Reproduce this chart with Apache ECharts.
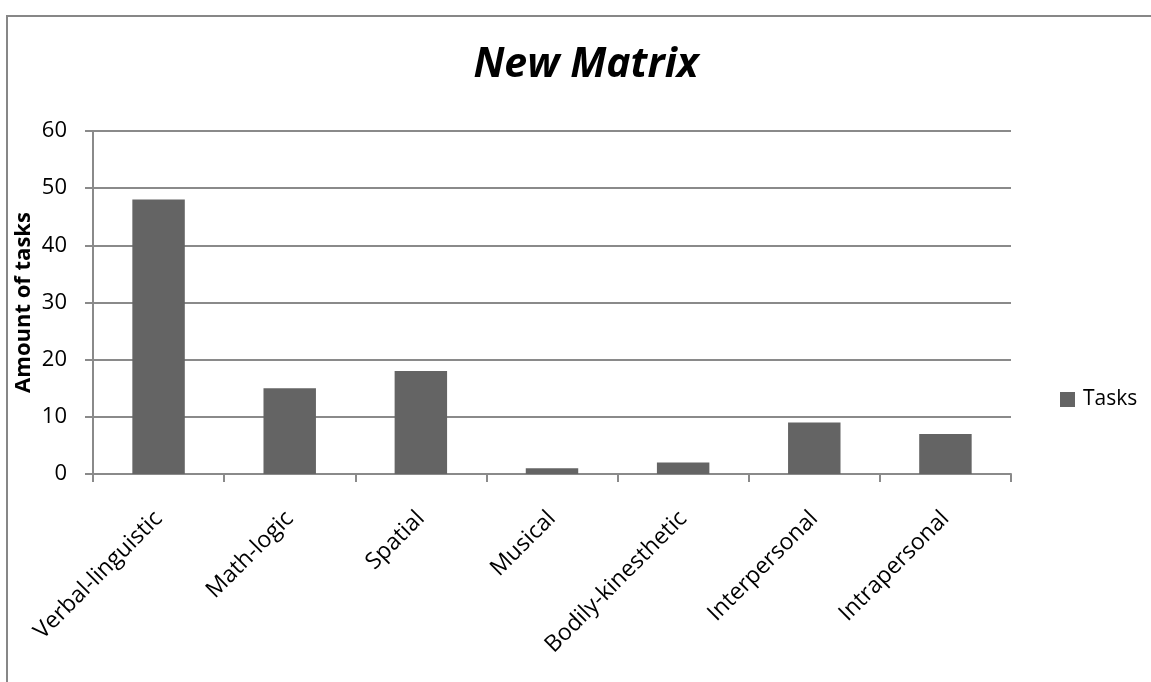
<!DOCTYPE html>
<html>
<head>
<meta charset="utf-8">
<title>New Matrix</title>
<script src="https://cdn.jsdelivr.net/npm/echarts@6/dist/echarts.min.js"></script>
<style>
  html, body { margin: 0; padding: 0; background: #fff; }
  #chart { width: 1151px; height: 682px; }
</style>
</head>
<body>
<div id="chart"></div>
<script>
// data
const categories = ['Verbal-linguistic', 'Math-logic', 'Spatial', 'Musical', 'Bodily-kinesthetic', 'Interpersonal', 'Intrapersonal'];
const tasks = [48, 15, 18, 1, 2, 9, 7];
const yTicks = [0, 10, 20, 30, 40, 50, 60];

const FONT = '"Open Sans", "Liberation Sans", sans-serif';
const GRID_GRAY = '#8a8a8a';

const chart = echarts.init(document.getElementById('chart'), null, { renderer: 'canvas' });

chart.setOption({
  backgroundColor: '#ffffff',
  animation: false,
  title: {
    text: 'New Matrix',
    left: 581,
    textAlign: 'center',
    top: 40,
    textStyle: {
      fontFamily: FONT,
      fontSize: 41,
      fontWeight: 'bold',
      fontStyle: 'italic',
      color: '#000'
    }
  },
  legend: {
    data: ['Tasks'],
    left: 1055,
    top: 384,
    itemWidth: 15,
    itemHeight: 15,
    icon: 'rect',
    textStyle: {
      fontFamily: FONT,
      fontSize: 21,
      color: '#000',
      padding: [0, 0, 0, 3]
    }
  },
  grid: {
    left: 93,
    right: 140,
    top: 131,
    bottom: 208,
    containLabel: false
  },
  xAxis: {
    type: 'category',
    data: categories,
    axisLine: { lineStyle: { color: GRID_GRAY, width: 2 } },
    axisTick: { show: true, length: 8, interval: 0, lineStyle: { color: GRID_GRAY, width: 2 } },
    axisLabel: {
      interval: 0,
      rotate: 45,
      margin: 41,
      fontFamily: FONT,
      fontSize: 23,
      color: '#000'
    }
  },
  yAxis: {
    type: 'value',
    min: yTicks[0],
    max: yTicks[yTicks.length - 1],
    interval: 10,
    name: 'Amount of tasks',
    nameLocation: 'middle',
    nameRotate: 90,
    nameGap: 58,
    nameMoveOverlap: false,
    nameTextStyle: {
      fontFamily: FONT,
      fontSize: 22,
      fontWeight: 'bold',
      color: '#000'
    },
    axisLine: { show: true, lineStyle: { color: GRID_GRAY, width: 2 } },
    axisTick: { show: true, length: 8, lineStyle: { color: GRID_GRAY, width: 2 } },
    axisLabel: {
      margin: 26,
      fontFamily: FONT,
      fontSize: 22,
      color: '#000'
    },
    splitLine: { show: true, lineStyle: { color: GRID_GRAY, width: 2 } }
  },
  series: [
    {
      name: 'Tasks',
      type: 'bar',
      data: tasks,
      barWidth: '40%',
      itemStyle: { color: '#646464' }
    }
  ],
  graphic: [
    {
      // outer chart border (top and left visible, the rest runs off the picture)
      type: 'rect',
      shape: { x: 7, y: 16, width: 1200, height: 700 },
      style: { fill: 'none', stroke: '#878787', lineWidth: 2 },
      silent: true
    }
  ]
});

window.addEventListener('resize', () => chart.resize());
</script>
</body>
</html>
